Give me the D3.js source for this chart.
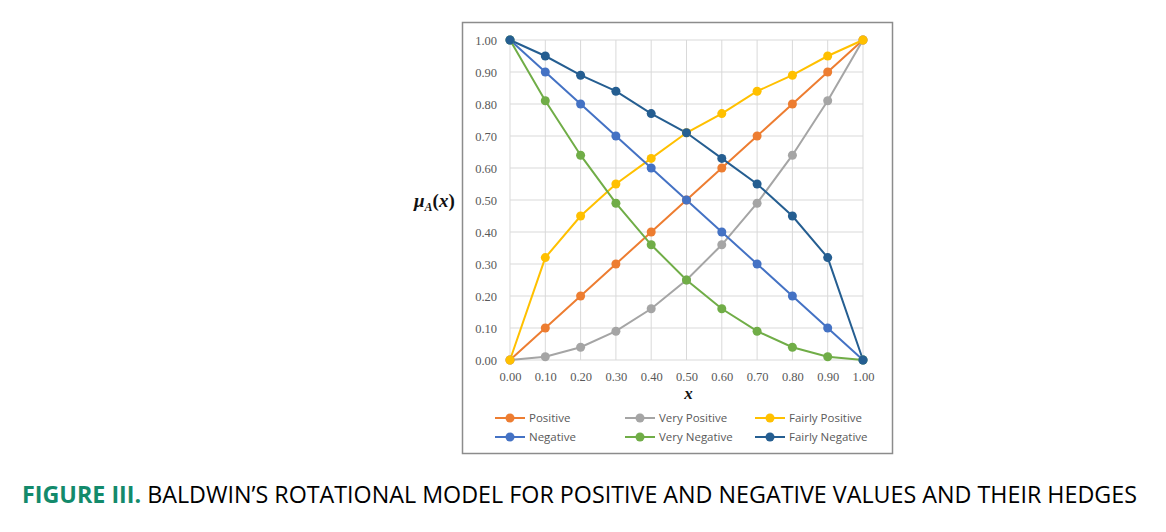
<!DOCTYPE html>
<html><head><meta charset="utf-8">
<script src="https://cdn.jsdelivr.net/npm/d3@7"></script>
<style>body{margin:0;background:#fff}svg{display:block}</style>
</head><body>
<svg id="c" width="1166" height="532"></svg>
<script>
const xs = [0,0.1,0.2,0.3,0.4,0.5,0.6,0.7,0.8,0.9,1.0];
const positive = [0,0.10,0.20,0.30,0.40,0.50,0.60,0.70,0.80,0.90,1.00];
const veryPositive = [0,0.01,0.04,0.09,0.16,0.25,0.36,0.49,0.64,0.81,1.00];
const fairlyPositive = [0,0.32,0.45,0.55,0.63,0.71,0.77,0.84,0.89,0.95,1.00];
const negative = [1.00,0.90,0.80,0.70,0.60,0.50,0.40,0.30,0.20,0.10,0];
const veryNegative = [1.00,0.81,0.64,0.49,0.36,0.25,0.16,0.09,0.04,0.01,0];
const fairlyNegative = [1.00,0.95,0.89,0.84,0.77,0.71,0.63,0.55,0.45,0.32,0];
const seriesNames = ["Positive","Very Positive","Fairly Positive","Negative","Very Negative","Fairly Negative"];
const seriesColors = ["#ED7D31","#A5A5A5","#FFC000","#4472C4","#70AD47","#255E91"];
const yTicks = [0,0.1,0.2,0.3,0.4,0.5,0.6,0.7,0.8,0.9,1.0];
const xTicks = [0,0.1,0.2,0.3,0.4,0.5,0.6,0.7,0.8,0.9,1.0];

const seriesVals = [positive,veryPositive,fairlyPositive,negative,veryNegative,fairlyNegative];
const svg = d3.select("#c");

// frame
svg.append("rect").attr("x",462.5).attr("y",22.5).attr("width",430).attr("height",431)
  .attr("fill","#fff").attr("stroke","#8c8c8c").attr("stroke-width",1.5);

const x = d3.scaleLinear().domain([0,1]).range([510,863]);
const y = d3.scaleLinear().domain([0,1]).range([360,40]);

// grid
svg.append("g").selectAll("line.h").data(yTicks).join("line")
  .attr("x1",x(0)).attr("x2",x(1)).attr("y1",d=>y(d)).attr("y2",d=>y(d))
  .attr("stroke","#d9d9d9").attr("stroke-width",1);
svg.append("g").selectAll("line.v").data(xTicks).join("line")
  .attr("y1",y(0)).attr("y2",y(1)).attr("x1",d=>x(d)).attr("x2",d=>x(d))
  .attr("stroke","#d9d9d9").attr("stroke-width",1);

// axes labels
const tickFont = "Liberation Serif, DejaVu Serif, serif";
const yAxis = d3.axisLeft(y).tickValues(yTicks).tickFormat(d3.format(".2f")).tickSize(0).tickPadding(13);
const ga = svg.append("g").attr("transform",`translate(${x(0)},0)`).call(yAxis);
ga.select(".domain").remove();
ga.selectAll("text").attr("font-family",tickFont).attr("font-size",12.5).attr("fill","#595959");
const xAxis = d3.axisBottom(x).tickValues(xTicks).tickFormat(d3.format(".2f")).tickSize(0).tickPadding(12);
const gx = svg.append("g").attr("transform",`translate(0,${y(0)})`).call(xAxis);
gx.select(".domain").remove();
gx.selectAll("text").attr("font-family",tickFont).attr("font-size",12.5).attr("fill","#595959");

// axis titles
const yt = svg.append("text").attr("x",414).attr("y",207).attr("font-family",tickFont)
  .attr("font-weight","bold").attr("font-size",19).attr("fill","#111");
yt.append("tspan").attr("font-style","italic").text("μ");
yt.append("tspan").attr("font-style","italic").attr("font-size",12).attr("dy",4).text("A");
yt.append("tspan").attr("dy",-4).text("(");
yt.append("tspan").attr("font-style","italic").text("x");
yt.append("tspan").text(")");
svg.append("text").attr("x",x(0.5)+2).attr("y",399).attr("text-anchor","middle")
  .attr("font-family",tickFont).attr("font-weight","bold").attr("font-style","italic")
  .attr("font-size",17).attr("fill","#111").text("x");

// series
const line = d3.line().x((d,i)=>x(xs[i])).y(d=>y(d));
seriesVals.forEach((vals,k)=>{
  svg.append("path").datum(vals).attr("d",line).attr("fill","none")
    .attr("stroke",seriesColors[k]).attr("stroke-width",2);
});
seriesVals.forEach((vals,k)=>{
  svg.append("g").selectAll("circle").data(vals).join("circle")
    .attr("cx",(d,i)=>x(xs[i])).attr("cy",d=>y(d)).attr("r",4.5).attr("fill",seriesColors[k]);
});

// legend
const legX = [495,625,755];
const legY = [418,437];
seriesNames.forEach((name,k)=>{
  const col = k%3, row = Math.floor(k/3);
  const g = svg.append("g").attr("transform",`translate(${legX[col]},${legY[row]})`);
  g.append("line").attr("x1",0).attr("x2",30).attr("y1",0).attr("y2",0).attr("stroke",seriesColors[k]).attr("stroke-width",2);
  g.append("circle").attr("cx",15).attr("cy",0).attr("r",4.5).attr("fill",seriesColors[k]);
  g.append("text").attr("x",34).attr("y",4).attr("font-family","Open Sans, Liberation Sans, sans-serif")
    .attr("font-size",11.5).attr("fill","#595959").text(name);
});

// caption
const cap = svg.append("text").attr("x",22).attr("y",503).attr("font-family","Open Sans, Liberation Sans, sans-serif")
  .attr("font-size",23).attr("textLength",1115).attr("lengthAdjust","spacingAndGlyphs");
cap.append("tspan").attr("fill","#138a6b").attr("font-weight","bold").text("FIGURE III.");
cap.append("tspan").attr("fill","#000").text(" BALDWIN’S ROTATIONAL MODEL FOR POSITIVE AND NEGATIVE VALUES AND THEIR HEDGES");
</script>
</body></html>
